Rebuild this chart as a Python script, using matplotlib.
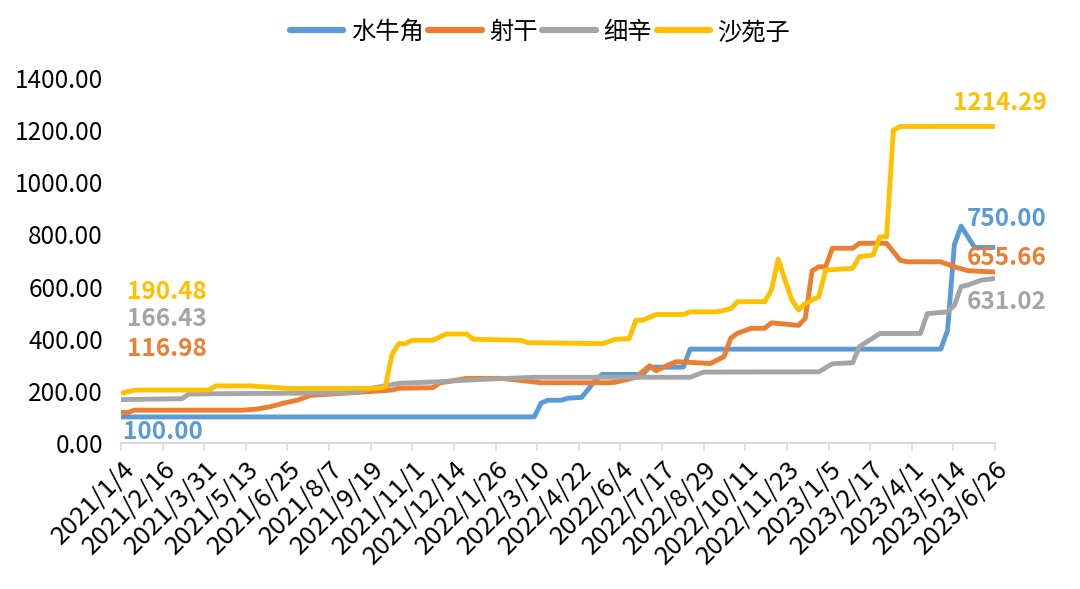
import numpy as np, pandas as pd
import matplotlib; matplotlib.use("Agg"); import matplotlib.pyplot as plt

plt.rcParams["font.family"] = ["Noto Sans CJK SC", "DejaVu Sans"]

# ---- data (weekly change points) ----
blue_dates = ["2021-01-04","2022-03-07","2022-03-14","2022-03-21","2022-04-04","2022-04-11","2022-04-25",
              "2022-05-09","2022-05-16","2022-06-27","2022-07-04","2022-08-08","2022-08-15","2023-05-01",
              "2023-05-08","2023-05-15","2023-05-22","2023-06-05","2023-06-26"]
blue_vals  = [100.00,100,153,164,164,172,175,240,263,263,291,291,360,360,432,760,832,750,750.00]

orange_dates = ["2021-01-04","2021-01-11","2021-01-18","2021-05-10","2021-05-24","2021-06-07","2021-06-21",
                "2021-07-05","2021-07-19","2021-09-13","2021-10-11","2021-10-18","2021-11-22","2021-11-29",
                "2021-12-27","2022-01-31","2022-02-21","2022-03-14","2022-05-23","2022-05-30","2022-06-20",
                "2022-07-04","2022-07-11","2022-07-25","2022-08-01","2022-09-05","2022-09-19","2022-09-26",
                "2022-10-03","2022-10-17","2022-10-31","2022-11-07","2022-12-05","2022-12-12","2022-12-19",
                "2022-12-26","2023-01-02","2023-01-09","2023-01-30","2023-02-06","2023-03-06","2023-03-20",
                "2023-03-27","2023-05-01","2023-05-15","2023-05-29","2023-06-26"]
orange_vals  = [116.98,117,126,126,130,139,153,164,183,196,203,210,212,230,248,248,240,231,231,233,252,
                296,277,302,312,305,331,402,421,440,440,461,451,478,660,676,676,747,747,766,766,701,
                695,695,676,661,655.66]

grey_dates = ["2021-01-04","2021-03-08","2021-03-15","2021-09-06","2021-09-20","2021-10-18","2021-11-29",
              "2021-12-27","2022-02-07","2022-03-07","2022-08-15","2022-08-29","2022-12-26","2023-01-09",
              "2023-01-30","2023-02-06","2023-02-27","2023-04-10","2023-04-17","2023-05-08","2023-05-15",
              "2023-05-22","2023-05-29","2023-06-12","2023-06-26"]
grey_vals  = [166.43,170,188,193,210,229,235,241,248,252,252,272,273,304,308,370,420,420,496,503,528,
              600,606,625,631.02]

yellow_dates = ["2021-01-04","2021-01-18","2021-04-05","2021-04-12","2021-05-17","2021-05-31","2021-06-28",
                "2021-09-27","2021-10-04","2021-10-11","2021-10-18","2021-10-25","2021-11-01","2021-11-22",
                "2021-12-06","2021-12-27","2022-01-03","2022-02-21","2022-02-28","2022-05-16","2022-05-30",
                "2022-06-13","2022-06-20","2022-06-27","2022-07-11","2022-08-08","2022-08-15","2022-09-12",
                "2022-09-26","2022-10-03","2022-10-31","2022-11-07","2022-11-14","2022-11-21","2022-11-28",
                "2022-12-05","2022-12-12","2022-12-26","2023-01-02","2023-01-30","2023-02-06","2023-02-20",
                "2023-02-27","2023-03-06","2023-03-13","2023-03-20","2023-06-26"]
yellow_vals  = [190.48,203,203,219,219,216,209,210,215,340,381,381,394,394,418,418,398,394,385,381,398,
                400,471,471,493,493,503,503,515,542,542,586,705,625,550,510,535,561,663,670,715,721,
                791,791,1200,1214,1214.29]

names  = ["水牛角", "射干", "细辛", "沙苑子"]
colors = ["#5B9BD5", "#ED7D31", "#A5A5A5", "#FFC000"]
tick_labels = ["2021/1/4","2021/2/16","2021/3/31","2021/5/13","2021/6/25","2021/8/7","2021/9/19",
               "2021/11/1","2021/12/14","2022/1/26","2022/3/10","2022/4/22","2022/6/4","2022/7/17",
               "2022/8/29","2022/10/11","2022/11/23","2023/1/5","2023/2/17","2023/4/1","2023/5/14","2023/6/26"]

series = [(blue_dates, blue_vals), (orange_dates, orange_vals), (grey_dates, grey_vals), (yellow_dates, yellow_vals)]

fig = plt.figure(figsize=(10.8, 5.89), dpi=100)
ax = fig.add_axes([121/1080, 1-443/589, (995-121)/1080, (443-78)/589])

for (d, v), n, c in zip(series, names, colors):
    ax.plot(pd.to_datetime(d), v, color=c, lw=3.5, label=n, solid_joinstyle="round", solid_capstyle="butt")

ticks = pd.to_datetime(tick_labels, format="%Y/%m/%d")
ax.set_xlim(ticks[0], ticks[-1])
ax.set_xticks(ticks)
ax.set_xticklabels(tick_labels, rotation=45, ha="right", rotation_mode="anchor", fontsize=18.5)
ax.set_ylim(0, 1400)
ax.set_yticks(np.arange(0, 1401, 200))
ax.set_yticklabels([f"{t:.2f}" for t in np.arange(0, 1401, 200)], fontsize=17.5)
ax.tick_params(axis="y", length=0, pad=13)
ax.tick_params(axis="x", length=6, color="#D9D9D9", width=1.2, pad=3)
for s in ["top", "right", "left"]: ax.spines[s].set_visible(False)
ax.spines["bottom"].set_color("#D9D9D9"); ax.spines["bottom"].set_linewidth(1.5)

# start / end value labels (y in data units)
fs = 17.5
left_y = [42, 362, 474, 580]
right_y = [861, 710, 541, 1304]
for i, (d, v) in enumerate(series):
    ax.text(ticks[0] + pd.Timedelta(days=2 if i == 0 else 6), left_y[i], f"{v[0]:.2f}",
            color=colors[i], fontsize=fs, weight="bold", va="center", ha="left")
    fig.text(1047/1080, 1 - (443 - right_y[i]/3.836)/589, f"{v[-1]:.2f}",
             color=colors[i], fontsize=fs, weight="bold", va="center", ha="right")

leg = fig.legend(loc="center", bbox_to_anchor=(0.5, 1-32/589), ncol=4, frameon=False, fontsize=17.5,
                 handlelength=2.2, handletextpad=0.3, columnspacing=0.2)
for h in leg.get_lines():
    h.set_linewidth(4.5); h.set_solid_capstyle("round")
fig.savefig("out.png", dpi=100)
